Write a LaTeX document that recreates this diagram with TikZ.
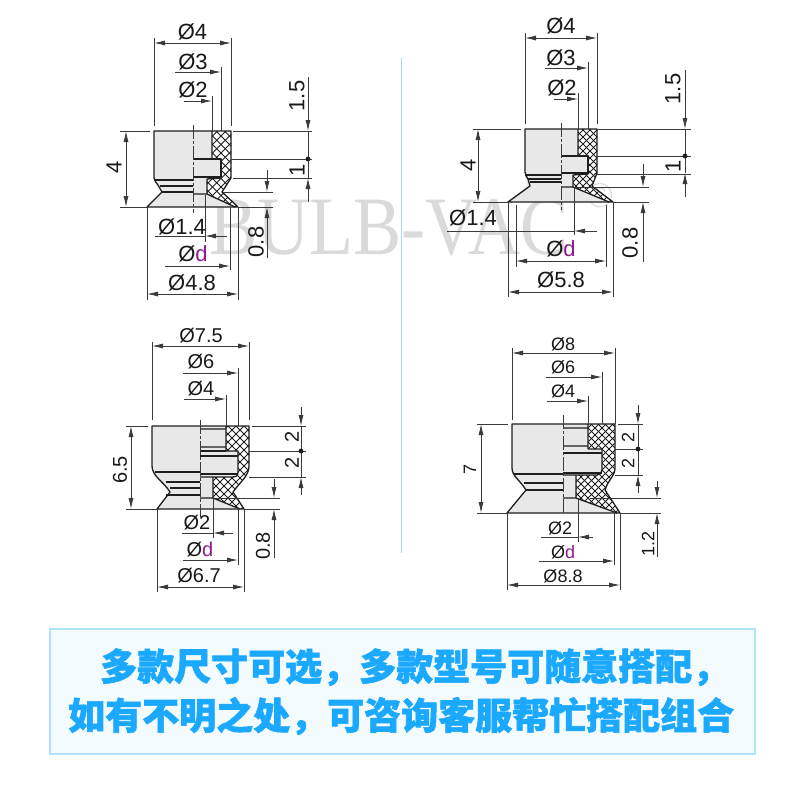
\documentclass[tikz,border=0pt]{standalone}
\usepackage{fontspec}
\setmainfont{Liberation Sans}
\newfontfamily\cjk[BoldFeatures={FakeBold=1.5}]{Noto Sans CJK SC}
\newfontfamily\wmfont{Liberation Serif}
\usetikzlibrary{arrows.meta}
\definecolor{bodygray}{HTML}{E8E8E8}
\definecolor{inkdark}{HTML}{1E1E1E}
\definecolor{dimgraycol}{HTML}{3A3A3A}
\definecolor{wmgray}{HTML}{DADADA}
\definecolor{dpurple}{HTML}{8E1A8E}
\definecolor{panelfill}{HTML}{F3FBFF}
\definecolor{panelline}{HTML}{AEE3FB}
\definecolor{paneltext}{HTML}{1AA9FF}
\definecolor{sepblue}{HTML}{A9DCF0}
\tikzset{
  dimline/.style={draw=dimgraycol,line width=0.8pt},
  tipboth/.style={dimline,{Latex[length=11pt,width=5pt]}-{Latex[length=11pt,width=5pt]}},
  tipend/.style={dimline,-{Latex[length=11pt,width=5pt]}},
  centreline/.style={draw=dimgraycol,line width=0.8pt,dash pattern=on 14pt off 2pt on 3pt off 2pt},
  outline/.style={draw=inkdark,line width=1.3pt,line join=round},
  bodyfill/.style={fill=bodygray,draw=none},
  hatchline/.style={draw=inkdark,line width=0.8pt},
  dimtext/.style={inner sep=0pt,text=black!90,font=\fontsize{#1}{#1}\selectfont},
  dimtext/.default=22,
  paneltxt/.style={inner sep=0pt,anchor=west,text=paneltext,font=\fontsize{37}{37}\cjk\bfseries},
}
\newcommand{\crosshatch}[4]{%
  \begin{scope}
    \fill[white] #4;
    \clip #4;
    \foreach \k in {-14,...,14}{
      \draw[hatchline] ({#1+\k*#3-70},{#2-70}) -- ++(140,140);
      \draw[hatchline] ({#1+\k*#3+70},{#2-70}) -- ++(-140,140);
    }
  \end{scope}}
\newcommand{\dee}{\textcolor{dpurple}{d}}
\newcommand{\fwcomma}{^^^^ff0c}
\begin{document}
\begin{tikzpicture}[x=1pt,y=-1pt]
\useasboundingbox (0,0) rectangle (800,800);
\fill[white] (0,0) rectangle (800,800);
% watermark
\node[inner sep=0pt,anchor=west,text=wmgray,xscale=0.87] (wm) at (209,228) {\fontsize{83}{83}\wmfont BULB-VAC};
\node[inner sep=0pt,text=wmgray] (wmr) at (600,196) {\fontsize{36}{36}\wmfont ©};
% separator
\draw[sepblue,line width=0.9pt] (401,58) -- (401,553);

% ===== drawing 1 =====
\fill[bodyfill] (154,131) -- (212,131) -- (212,159) -- (221,159) -- (221,177) -- (207,179) -- (207,194) -- (238,207) -- (147,207) -- (162,192) -- (157,186) -- (154,180) -- cycle;
\crosshatch{221}{170}{8.5}{(212,131) -- (231,131) -- (231,178) -- (222,192) -- (238,207) -- (235,207) -- (207,194) -- (207,179) -- (221,177) -- (221,159) -- (212,159) -- cycle}
\draw[outline] (212,159) -- (212,131) -- (154,131) -- (154,178) .. controls (154,181) and (157,183) .. (158,185) -- (162,192) -- (147,207) -- (238,207) -- (222,192) -- (231,178) -- (231,131) -- (212,131);
\draw[outline] (193,159) -- (221,159) -- (221,177) -- (193,177);
\draw[outline] (154,180) -- (193,180) (160,186) -- (193,186) (162,192) -- (193,192);
\draw[outline] (221,178) -- (207,179) -- (207,194) -- (235,207) (193,194) -- (207,194);
\draw[centreline] (193,125) -- (193,213);
\draw[dimline] (154,38) -- (154,126) (231,38) -- (231,126) (221,67) -- (221,131) (212,96) -- (212,131);
\draw[dimline] (120,131) -- (150,131) (120,207) -- (147,207) (233,131) -- (312,131) (231,159) -- (312,159) (233,178) -- (312,178) (223,192) -- (273,192) (238,207) -- (273,207);
\draw[tipboth] (154,43) -- (231,43);
\draw[tipend] (175,72) -- (221,72);
\draw[tipend] (184,101) -- (212,101);
\draw[tipend] (308,77) -- (308,131);
\draw[tipend] (308,202) -- (308,178);
\draw[dimline] (308,131) -- (308,178);
\fill[inkdark] (308,159) circle (2.4);
\draw[tipboth] (126,131) -- (126,207);
\draw[tipend] (267,170) -- (267,192);
\draw[tipend] (267,258) -- (267,207);
\draw[dimline] (205,195) -- (205,242) (230,207) -- (230,270) (147,207) -- (147,300) (238,207) -- (238,300);
\draw[tipend] (227,236) -- (205,236);
\draw[dimline] (205,236) -- (155,236);
\draw[tipend] (165,266) -- (230,266);
\draw[tipboth] (147,294) -- (238,294);
\node[dimtext] (a1) at (192.5,32) {Ø4};
\node[dimtext] (a2) at (193,62) {Ø3};
\node[dimtext] (a3) at (193,90) {Ø2};
\node[dimtext,rotate=90] (a4) at (297,96) {1.5};
\node[dimtext,rotate=90] (a5) at (297,170) {1};
\node[dimtext,rotate=90] (a6) at (114,167) {4};
\node[dimtext,rotate=90] (a7) at (256,242) {0.8};
\node[dimtext] (a8) at (182,227) {Ø1.4};
\node[dimtext] (a9) at (193,254) {Ø\dee};
\node[dimtext] (a10) at (192,283) {Ø4.8};

% ===== drawing 2 =====
\fill[bodyfill] (525,129) -- (578,129) -- (578,156) -- (588,156) -- (588,173) -- (573,175) -- (573,187) -- (613,202) -- (508,202) -- (527,186) -- (525,175) -- cycle;
\crosshatch{590}{165}{7}{(578,129) -- (597,129) -- (597,173) -- (592,186) -- (613,202) -- (609,202) -- (573,187) -- (573,175) -- (588,173) -- (588,156) -- (578,156) -- cycle}
\draw[outline] (578,156) -- (578,129) -- (525,129) -- (525,172) .. controls (525,175) and (527,177) .. (528,179) -- (530,186) -- (508,202) -- (613,202) -- (592,186) -- (597,173) -- (597,129) -- (578,129);
\draw[outline] (561,156) -- (588,156) -- (588,173) -- (561,173);
\draw[outline] (525,175) -- (561,175) (528,179) -- (561,179) (530,182) -- (561,182);
\draw[outline] (588,174) -- (573,175) -- (573,187) -- (609,202) (561,187) -- (573,187);
\draw[centreline] (561,123) -- (561,210);
\draw[dimline] (525,33) -- (525,124) (597,33) -- (597,124) (588,62) -- (588,129) (578,93) -- (578,129);
\draw[dimline] (473,129) -- (521,129) (473,202) -- (508,202) (597,129) -- (691,129) (597,156) -- (691,156) (597,174) -- (691,174) (575,187) -- (649,187) (613,202) -- (649,202);
\draw[tipboth] (525,38) -- (597,38);
\draw[tipend] (545,68) -- (588,68);
\draw[tipend] (554,99) -- (578,99);
\draw[tipend] (685,70) -- (685,129);
\draw[tipend] (685,197) -- (685,173);
\draw[dimline] (685,129) -- (685,173);
\fill[inkdark] (685,156) circle (2.4);
\draw[tipboth] (478,129) -- (478,202);
\draw[tipend] (643,164) -- (643,187);
\draw[tipend] (643,262) -- (643,202);
\draw[dimline] (574,187) -- (574,235) (516,205) -- (516,267) (606,205) -- (606,267) (508,202) -- (508,297) (613,202) -- (613,297);
\draw[tipend] (597,231) -- (574,231);
\draw[dimline] (574,231) -- (447,231);
\draw[tipboth] (516,261) -- (606,261);
\draw[tipboth] (508,292) -- (613,292);
\node[dimtext] (b1) at (561,26) {Ø4};
\node[dimtext] (b2) at (561,58) {Ø3};
\node[dimtext] (b3) at (562,88) {Ø2};
\node[dimtext,rotate=90] (b4) at (673,89) {1.5};
\node[dimtext,rotate=90] (b5) at (673,166) {1};
\node[dimtext,rotate=90] (b6) at (468,165) {4};
\node[dimtext,rotate=90] (b7) at (630,243) {0.8};
\node[dimtext] (b8) at (473,218) {Ø1.4};
\node[dimtext] (b9) at (561,249) {Ø\dee};
\node[dimtext] (b10) at (561,280) {Ø5.8};

% ===== drawing 3 =====
\fill[bodyfill] (152,426) -- (226,426) -- (226,451) -- (238,451) -- (238,475) -- (213,477) -- (213,498) -- (243,509) -- (157,509) -- (170,492) -- (156,478) -- (152,470) -- cycle;
\crosshatch{232}{470}{8}{(226,426) -- (249,426) -- (249,468) .. controls (249,476) and (240,482) .. (233,492) -- (244,509) -- (240,509) -- (213,498) -- (213,477) -- (232,477) .. controls (236,477) and (238,476) .. (238,472) -- (238,451) -- (226,451) -- cycle}
\draw[outline] (226,451) -- (226,426) -- (152,426) -- (152,466) .. controls (152,476) and (164,482) .. (170,492) -- (157,509) -- (244,509) -- (233,492) .. controls (240,482) and (249,476) .. (249,466) -- (249,426) -- (226,426);
\draw[outline] (200,429) -- (226,429) (200,447) -- (226,447) (226,451) -- (238,451) -- (238,472) .. controls (238,476) and (236,477) .. (232,477) -- (213,477) -- (200,477);
\draw[outline] (200,451) -- (226,451) (200,456) -- (238,456) (200,474) -- (238,474);
\draw[outline] (155,472) -- (200,472) (166,482) -- (200,482) (170,488) -- (200,488) (166,495) -- (200,495);
\draw[outline] (213,477) -- (213,498) -- (240,509) (200,498) -- (213,498);
\draw[centreline] (200,420) -- (200,517);
\draw[dimline] (152,342) -- (152,420) (249,342) -- (249,420) (238,368) -- (238,426) (226,395) -- (226,426);
\draw[dimline] (126,426) -- (148,426) (126,509) -- (157,509) (252,426) -- (306,426) (249,451) -- (306,451) (249,477) -- (306,477) (215,498) -- (280,498) (244,509) -- (280,509);
\draw[tipboth] (152,346) -- (249,346);
\draw[tipend] (183,373) -- (238,373);
\draw[tipend] (184,399) -- (226,399);
\draw[tipend] (301,407) -- (301,426);
\draw[tipend] (301,495) -- (301,477);
\draw[dimline] (301,426) -- (301,477);
\fill[inkdark] (301,451) circle (2.4);
\draw[tipboth] (131,426) -- (131,509);
\draw[tipend] (274,479) -- (274,498);
\draw[tipend] (274,558) -- (274,509);
\draw[dimline] (213,498) -- (213,538) (238,509) -- (238,565) (157,509) -- (157,592) (244,509) -- (244,592);
\draw[tipend] (233,533) -- (213,533);
\draw[dimline] (213,533) -- (182,533);
\draw[tipend] (183,560) -- (238,560);
\draw[tipboth] (157,587) -- (244,587);
\node[dimtext=20] (c1) at (201,336) {Ø7.5};
\node[dimtext=20] (c2) at (201,362) {Ø6};
\node[dimtext=20] (c3) at (201,389) {Ø4};
\node[dimtext=20,rotate=90] (c4) at (292,437) {2};
\node[dimtext=20,rotate=90] (c5) at (292,463) {2};
\node[dimtext=20,rotate=90] (c6) at (120,470) {6.5};
\node[dimtext=20,rotate=90] (c7) at (263,546) {0.8};
\node[dimtext=20] (c8) at (197,523) {Ø2};
\node[dimtext=20] (c9) at (200,550) {Ø\dee};
\node[dimtext=20] (c10) at (199,576) {Ø6.7};

% ===== drawing 4 =====
\fill[bodyfill] (512,424) -- (588,424) -- (588,449) -- (602,449) -- (602,474) -- (576,475) -- (576,498) -- (617,513) -- (507,513) -- (526,490) -- (516,480) -- (512,472) -- cycle;
\crosshatch{595}{470}{7}{(588,424) -- (615,424) -- (615,468) .. controls (615,476) and (608,480) .. (605,490) -- (620,513) -- (617,513) -- (576,498) -- (576,475) -- (597,475) .. controls (600,475) and (602,473) .. (602,470) -- (602,449) -- (588,449) -- cycle}
\draw[outline] (588,449) -- (588,424) -- (512,424) -- (512,468) .. controls (512,476) and (520,480) .. (526,490) -- (507,513) -- (620,513) -- (605,490) .. controls (608,480) and (615,476) .. (615,468) -- (615,424) -- (588,424);
\draw[outline] (563,428) -- (588,428) (563,446) -- (588,446) (588,449) -- (602,449) -- (602,470) .. controls (602,473) and (600,475) .. (597,475) -- (576,475) -- (563,475);
\draw[outline] (563,453) -- (602,453) (563,473) -- (602,473);
\draw[outline] (514,474) -- (563,474) (524,483) -- (563,483) (526,490) -- (563,490);
\draw[outline] (576,475) -- (576,498) -- (617,513) (563,498) -- (576,498);
\draw[centreline] (563,415) -- (563,515);
\draw[dimline] (512,348) -- (512,420) (615,348) -- (615,424) (602,372) -- (602,424) (588,396) -- (588,424);
\draw[dimline] (477,424) -- (508,424) (477,513) -- (507,513) (618,424) -- (643,424) (615,449) -- (643,449) (615,475) -- (643,475) (590,498) -- (661,498) (620,513) -- (661,513);
\draw[tipboth] (512,353) -- (615,353);
\draw[tipend] (546,377) -- (602,377);
\draw[tipend] (547,401) -- (588,401);
\draw[tipend] (638,405) -- (638,424);
\draw[tipend] (638,493) -- (638,475);
\draw[dimline] (638,424) -- (638,475);
\fill[inkdark] (638,449) circle (2.4);
\draw[tipboth] (481,424) -- (481,513);
\draw[tipend] (657,481) -- (657,498);
\draw[tipend] (657,557) -- (657,513);
\draw[dimline] (578,498) -- (578,542) (614,513) -- (614,565) (507,513) -- (507,590) (620,513) -- (620,590);
\draw[tipend] (593,537) -- (578,537);
\draw[dimline] (578,537) -- (541,537);
\draw[tipend] (539,561) -- (614,561);
\draw[tipboth] (507,585) -- (620,585);
\node[dimtext=18] (d1) at (563,344) {Ø8};
\node[dimtext=18] (d2) at (563,367) {Ø6};
\node[dimtext=18] (d3) at (563,391) {Ø4};
\node[dimtext=18,rotate=90] (d4) at (628,437) {2};
\node[dimtext=18,rotate=90] (d5) at (628,463) {2};
\node[dimtext=18,rotate=90] (d6) at (470,469) {7};
\node[dimtext=18,rotate=90] (d7) at (648,544) {1.2};
\node[dimtext=18] (d8) at (560,528) {Ø2};
\node[dimtext=18] (d9) at (563,552) {Ø\dee};
\node[dimtext=18] (d10) at (563,576) {Ø8.8};

% ===== panel =====
\draw[draw=panelline,fill=panelfill,line width=2pt] (50,629) rectangle (755,754);
\node[paneltxt] (p1) at (100,667) {多款尺寸可选\fwcomma 多款型号可随意搭配\fwcomma};
\node[paneltxt] (p2) at (68,716) {如有不明之处\fwcomma 可咨询客服帮忙搭配组合};
\end{tikzpicture}
\end{document}
